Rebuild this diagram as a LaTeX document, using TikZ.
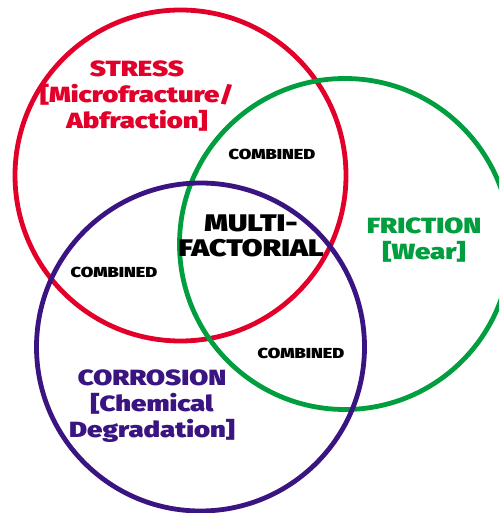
\documentclass[tikz,border=0pt]{standalone}
\usepackage{fontspec}
\setmainfont{Fira Sans}[BoldFont={Fira Sans Black}, FakeStretch=1.25]
\definecolor{cred}{RGB}{226,0,42}
\definecolor{cgreen}{RGB}{0,158,62}
\definecolor{cpurple}{RGB}{58,20,128}
\begin{document}
\begin{tikzpicture}[x=1pt,y=-1pt,
  ring/.style={line width=4.8pt},
  lbl/.style={font=\bfseries\fontsize{22}{26}\selectfont, align=center, inner sep=0pt},
  comb/.style={font=\bfseries\fontsize{14.5}{16}\selectfont, inner sep=0pt}]
\useasboundingbox (0,0) rectangle (499,513);
\clip (0,0) rectangle (499,513);
\draw[ring, cred] (180.5,175.5) circle[radius=165.5];
\draw[ring, cgreen] (345,244) circle[radius=165.5];
\draw[ring, cpurple] (200.5,347) circle[radius=164];
\node[lbl, text=cred] (stress) at (137,96) {STRESS\\{[}Microfracture/\\Abfraction{]}};
\node[lbl, text=cgreen] (friction) at (424,240) {FRICTION\\{[}Wear{]}};
\node[lbl, text=cpurple] (corr) at (152,406) {CORROSION\\{[}Chemical\\Degradation{]}};
\node[lbl, font=\bfseries\fontsize{24}{25}\selectfont] (multi) at (251,236) {MULTI-\\FACTORIAL};
\node[comb] (c1) at (272,154) {COMBINED};
\node[comb] (c2) at (114,272) {COMBINED};
\node[comb] (c3) at (301,353) {COMBINED};
\end{tikzpicture}
\end{document}
